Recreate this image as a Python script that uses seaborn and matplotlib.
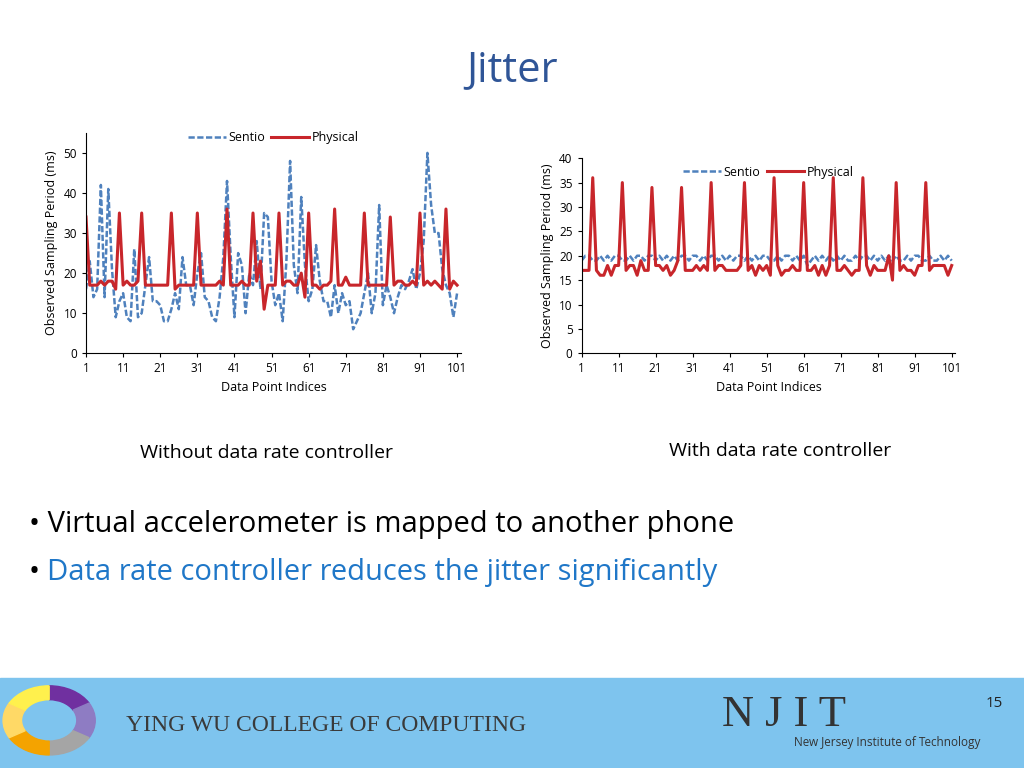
import matplotlib
matplotlib.use("Agg")
import matplotlib.pyplot as plt
import seaborn as sns
import pandas as pd
from matplotlib.patches import Rectangle, Wedge

indices = list(range(1, 102))
left_sentio = [16,23,14,16,42,14,41,21,9,13,15,9,8,26,9,10,17,24,13,13,
               12,8,8,11,15,11,24,17,17,12,20,25,14,13,9,8,14,24,43,24,
               9,25,22,10,20,17,28,16,35,34,18,12,15,8,23,48,22,15,39,22,
               13,16,27,18,13,13,9,17,10,15,12,13,6,8,10,15,20,10,15,37,
               12,17,14,10,14,17,16,18,21,16,20,28,50,37,30,30,21,17,15,9,15]
left_physical = [34,17,17,17,18,17,18,18,16,35,17,18,17,17,18,35,17,17,17,17,
                 17,17,17,35,16,17,17,17,17,17,35,17,17,17,17,17,18,17,36,17,
                 17,17,18,17,17,35,18,23,11,17,17,17,35,17,18,18,17,17,20,14,
                 35,17,17,16,17,17,18,36,17,17,19,17,17,17,17,35,17,17,17,17,
                 17,17,34,17,18,18,17,17,18,17,35,17,18,17,18,17,16,36,16,18,17]
right_sentio = [19,20,20,19,19,20,19,20,19,20,20,19,19,20,19,20,20,19,20,20,
                19,20,19,20,19,20,19,20,20,19,20,20,19,20,19,20,20,19,20,19,
                20,19,20,20,19,20,19,20,19,20,20,19,19,20,19,20,20,19,20,19,
                20,18,19,20,19,20,19,20,19,20,19,20,19,19,20,19,20,20,19,20,
                19,20,19,20,19,20,19,19,20,19,20,20,19,19,20,19,19,20,19,20,19]
right_physical = [17,17,17,36,17,16,16,18,16,18,18,35,17,18,18,16,19,17,17,34,
                  18,18,17,18,16,17,19,34,17,17,17,18,17,18,17,35,17,18,18,17,
                  17,17,17,18,35,17,18,16,18,17,18,16,36,18,16,17,17,18,17,17,
                  35,17,17,18,16,18,16,18,36,17,17,18,17,16,17,17,36,18,16,18,
                  17,17,17,20,15,35,17,18,17,17,16,18,18,35,17,18,18,18,18,16,18]
tick_labels = [1, 11, 21, 31, 41, 51, 61, 71, 81, 91, 101]

plt.rcParams["font.family"] = "Open Sans"
fig = plt.figure(figsize=(10.24, 7.68), dpi=100)
fig.patch.set_facecolor("white")

def draw(ax, sentio, physical, ymax, yticks, leg_y):
    df = pd.DataFrame({"idx": indices, "Sentio": sentio, "Physical": physical})
    sns.lineplot(data=df, x="idx", y="Sentio", ax=ax, color="#4F81BD", lw=1.8,
                 linestyle=(0, (2.5, 1)), label="Sentio")
    sns.lineplot(data=df, x="idx", y="Physical", ax=ax, color="#C8262B", lw=2.2,
                 label="Physical")
    ax.set_xlim(1, 102)
    ax.set_ylim(0, ymax)
    ax.set_xticks(tick_labels)
    ax.set_yticks(yticks)
    ax.tick_params(labelsize=8.5, length=3)
    for s in ["top", "right"]:
        ax.spines[s].set_visible(False)
    ax.set_xlabel("Data Point Indices", fontsize=9)
    ax.set_ylabel("Observed Sampling Period (ms)", fontsize=9)
    ax.legend(loc="upper center", bbox_to_anchor=(0.5, leg_y), ncol=2, frameon=False,
              fontsize=9, handlelength=3, columnspacing=0.5, handletextpad=0.2)

ax1 = fig.add_axes([0.084, 0.540, 0.366, 0.287])
draw(ax1, left_sentio, left_physical, 55, [0, 10, 20, 30, 40, 50], 1.06)
ax2 = fig.add_axes([0.568, 0.540, 0.365, 0.254])
draw(ax2, right_sentio, right_physical, 40, [0, 5, 10, 15, 20, 25, 30, 35, 40], 1.02)

fig.text(0.5, 0.895, "Jitter", ha="center", fontsize=30, color="#2F5597")
fig.text(0.26, 0.403, "Without data rate controller", ha="center", fontsize=14)
fig.text(0.762, 0.406, "With data rate controller", ha="center", fontsize=14)
fig.text(0.028, 0.307, "• Virtual accelerometer is mapped to another phone", fontsize=21)
fig.text(0.028, 0.245, "• ", fontsize=21)
fig.text(0.046, 0.245, "Data rate controller reduces the jitter significantly", fontsize=21, color="#1F77C8")

fig.patches.append(Rectangle((0, 0), 1, 0.117, transform=fig.transFigure, color="#7EC4EE", zorder=0))
cols = ["#7030A0", "#8E7CC3", "#A5A5A5", "#F4A300", "#FFD966", "#FFF04D"]
for i, c in enumerate(cols):
    fig.patches.append(Wedge((0.048, 0.062), 0.045, 90 - (i + 1) * 60, 90 - i * 60, width=0.018,
                             transform=fig.transFigure, color=c))
fig.text(0.123, 0.048, "YING WU COLLEGE OF COMPUTING", fontsize=17, family="Liberation Serif",
         color="#3A3A3A")
fig.text(0.705, 0.055, "N J I T", fontsize=32, family="Liberation Serif", color="#333333")
fig.text(0.775, 0.028, "New Jersey Institute of Technology", fontsize=8.5, color="#333333")
fig.text(0.971, 0.08, "15", fontsize=11, ha="center", color="#222222")

fig.savefig("out.png", dpi=100)
